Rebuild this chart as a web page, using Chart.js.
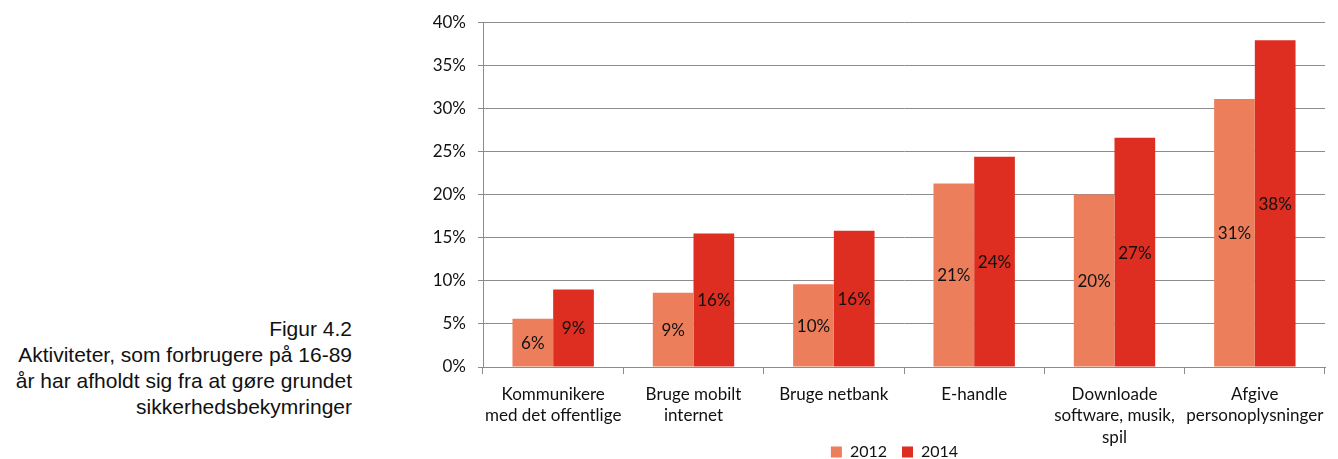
<!DOCTYPE html>
<html>
<head>
<meta charset="utf-8">
<script src="https://cdn.jsdelivr.net/npm/chart.js@4"></script>
<style>
  html, body { margin:0; padding:0; background:#fff; width:1338px; height:459px; overflow:hidden; }
  #caption { position:absolute; left:0; top:316px; width:352px; text-align:right; white-space:nowrap;
    font-family:"Liberation Sans", Arial, sans-serif; font-size:21px; line-height:26px; color:#111; }
  #wrap { position:absolute; left:380px; top:0; width:958px; height:470px; }
</style>
</head>
<body>
<div id="caption">Figur 4.2<br>Aktiviteter, som forbrugere på 16-89<br>år har afholdt sig fra at gøre grundet<br>sikkerhedsbekymringer</div>
<div id="wrap"><canvas id="c"></canvas></div>
<script>
const categories = [
  ["Kommunikere", "med det offentlige"],
  ["Bruge mobilt", "internet"],
  ["Bruge netbank"],
  ["E-handle"],
  ["Downloade", "software, musik,", "spil"],
  ["Afgive", "personoplysninger"]
];
const seriesNames = ["2012", "2014"];
const values2012 = [5.6, 8.6, 9.6, 21.3, 20.0, 31.1];
const values2014 = [9.0, 15.5, 15.8, 24.4, 26.6, 37.9];
const yTicks = [0, 5, 10, 15, 20, 25, 30, 35, 40];

const FONT = "Lato, 'Open Sans', sans-serif";
const GRID = "#8c8c8c";

const labelPlugin = {
  id: 'barLabels',
  afterLayout(chart) {
    // let the 3-line category label extend under the legend, and nudge the legend like the original
    chart.scales.x.bottom += 30;
    chart.legend.left += 42;
    chart.legend.right += 42;
  },
  afterDatasetsDraw(chart) {
    const ctx = chart.ctx;
    ctx.save();
    ctx.font = "17px " + FONT;
    ctx.fillStyle = "#111";
    ctx.textAlign = "center";
    ctx.textBaseline = "middle";
    chart.data.datasets.forEach((ds, i) => {
      chart.getDatasetMeta(i).data.forEach((bar, j) => {
        const p = bar.getProps(['x', 'y', 'base'], true);
        ctx.fillText(Math.round(ds.data[j]) + "%", p.x, (p.y + p.base) / 2 + 1);
      });
    });
    ctx.restore();
  }
};

new Chart(document.getElementById('c'), {
  type: 'bar',
  data: {
    labels: categories,
    datasets: [
      { label: seriesNames[0], data: values2012, backgroundColor: '#ec7e5b' },
      { label: seriesNames[1], data: values2014, backgroundColor: '#de2d21' }
    ]
  },
  options: {
    responsive: true,
    maintainAspectRatio: false,
    animation: false,
    layout: { padding: { top: 17, right: 13, left: 0, bottom: 0 } },
    datasets: { bar: { categoryPercentage: 0.58, barPercentage: 1.0 } },
    plugins: {
      legend: {
        position: 'bottom',
        labels: { boxWidth: 11, boxHeight: 11, padding: 15, color: '#111', font: { family: FONT, size: 16 } }
      },
      tooltip: { enabled: false }
    },
    scales: {
      x: {
        afterFit(scale) { scale.height = 62; },
        grid: { offset: true, drawOnChartArea: false, drawTicks: true, tickLength: 7, color: GRID },
        border: { color: GRID },
        ticks: { color: '#111', padding: 10, maxRotation: 0, autoSkip: false,
                 font: { family: FONT, size: 17, lineHeight: 1.25 } }
      },
      y: {
        min: 0, max: 40,
        afterFit(scale) { scale.width = 103; },
        afterBuildTicks(scale) { scale.ticks = yTicks.map(v => ({ value: v })); },
        grid: { color: GRID, tickLength: 5 },
        border: { color: GRID },
        ticks: { color: '#111', padding: 12, font: { family: FONT, size: 17 },
                 callback: v => v + '%' }
      }
    }
  },
  plugins: [labelPlugin]
});
</script>
</body>
</html>
